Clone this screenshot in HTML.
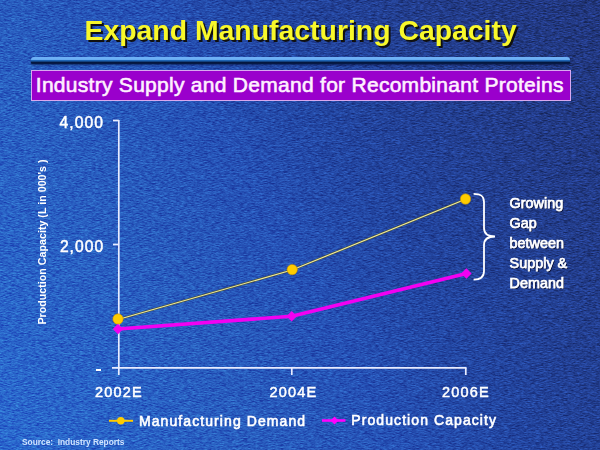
<!DOCTYPE html>
<html>
<head>
<meta charset="utf-8">
<style>
html,body{margin:0;padding:0;}
body{width:600px;height:450px;overflow:hidden;position:relative;font-family:"Liberation Sans",sans-serif;
background:linear-gradient(60deg,rgb(42,104,206) 0%,rgb(40,92,190) 30%,rgb(37,80,180) 47%,rgb(34,68,158) 62%,rgb(34,60,138) 80%,rgb(33,54,124) 100%);}
.abs{position:absolute;white-space:nowrap;}
#title{left:84.5px;top:12.5px;font-size:28.4px;font-weight:bold;color:#f8f82a;text-shadow:2px 2px 0 #101010;line-height:34px;}
#bar{left:31px;top:57px;width:539px;height:7px;background:linear-gradient(#6eb0f5 0,#6eb0f5 35%,#1e64b4 45%,#1e64b4 60%,#04163c 70%,#061a48 100%);border-radius:3px 3px 1px 1px;box-shadow:0 1px 2px rgba(2,10,40,0.55);}
#sub{left:31px;top:70px;width:538px;height:29px;background:#9a00cc;border:1px solid #d8a8f0;}
#subt{left:35.8px;top:72.6px;font-size:21px;color:#fff0ff;letter-spacing:0.28px;-webkit-text-stroke:0.6px #fff0ff;line-height:24px;}
.ax{font-size:14.5px;color:#ffffff;letter-spacing:1.2px;line-height:16px;-webkit-text-stroke:0.5px #fff;}
.lg{font-size:14px;color:#ffffff;letter-spacing:1.08px;line-height:16px;-webkit-text-stroke:0.6px #fff;}
.gap{left:509.6px;font-size:14.4px;color:#ffffff;line-height:20px;text-shadow:1px 1px 0.5px #050c30;-webkit-text-stroke:0.75px #fff;}
#ylab{left:42.4px;top:242.4px;font-size:10.7px;font-weight:bold;color:#fff;transform:translate(-50%,-50%) rotate(-90deg);line-height:12px;}
#src{left:22px;top:436.5px;font-size:8.35px;font-weight:bold;color:#d0e4ff;line-height:10px;}
svg{position:absolute;left:0;top:0;}
</style>
</head>
<body>
<svg id="bg" width="600" height="450" viewBox="0 0 600 450" style="position:absolute;left:0;top:0;mix-blend-mode:overlay;opacity:0.38">
  <defs>
    <filter id="nz" x="0" y="0" width="100%" height="100%" color-interpolation-filters="sRGB">
      <feTurbulence type="fractalNoise" baseFrequency="0.25 1.4" numOctaves="3" seed="7" result="t"/>
      <feColorMatrix in="t" type="matrix" values="1.6 0 0 0 -0.3  1.6 0 0 0 -0.3  1.6 0 0 0 -0.3  0 0 0 0 1"/>
    </filter>
  </defs>
  <rect width="600" height="450" fill="#808080" filter="url(#nz)"/>
</svg>
<div class="abs" id="title">Expand Manufacturing Capacity</div>
<div class="abs" id="bar"></div>
<div class="abs" id="sub"></div>
<div class="abs" id="subt">Industry Supply and Demand for Recombinant Proteins</div>

<svg width="600" height="450" viewBox="0 0 600 450">
  <!-- axes -->
  <g stroke="#e8ecff" stroke-width="1.7" fill="none">
    <line x1="118.8" y1="120" x2="118.8" y2="375"/>
    <line x1="112" y1="367.8" x2="466.5" y2="367.8"/>
    <line x1="113" y1="120.5" x2="119" y2="120.5"/>
    <line x1="113" y1="244.5" x2="119" y2="244.5"/>
    <line x1="291.8" y1="367.8" x2="291.8" y2="375"/>
    <line x1="465.8" y1="367.8" x2="465.8" y2="375"/>
  </g>
  <!-- demand line -->
  <polyline points="118,319.5 292,270 465.5,199.3" fill="none" stroke="#4a5236" stroke-width="2.3"/>
  <polyline points="118,319.5 292,270 465.5,199.3" fill="none" stroke="#f0eaa0" stroke-width="1.15"/>
  <!-- capacity line -->
  <polyline points="118,329 291.7,316.3 466.4,273.5" fill="none" stroke="#f200f2" stroke-width="3.6" stroke-linejoin="round"/>
  <g fill="#ffcc00" stroke="#c89000" stroke-width="0.6">
    <circle cx="118" cy="319" r="5.2"/>
    <circle cx="292.2" cy="269.6" r="5.2"/>
    <circle cx="465.5" cy="199" r="5.2"/>
  </g>
  <g fill="#f200f2">
    <path d="M118 323.8 L123.2 329 L118 334.2 L112.8 329Z"/>
    <path d="M291.7 311.1 L296.9 316.3 L291.7 321.5 L286.5 316.3Z"/>
    <path d="M466.4 268.3 L471.6 273.5 L466.4 278.7 L461.2 273.5Z"/>
  </g>
  <!-- brace -->
  <path d="M473.6 193.8 C481 193.8 484 196 484 202 L484 228 C484 233 487 236.5 495 236.5 C487 236.5 484 240 484 245 L484 271 C484 277 481 279.6 473.6 279.6" fill="none" stroke="#ffffff" stroke-width="1.8"/>
  <!-- legend -->
  <line x1="109" y1="420.8" x2="133" y2="420.8" stroke="#ffcc00" stroke-width="2"/>
  <circle cx="120.8" cy="420.8" r="3.8" fill="#ffcc00"/>
  <line x1="322" y1="420.5" x2="345.5" y2="420.5" stroke="#ff00ff" stroke-width="2.6"/>
  <path d="M334.5 416.5 L338.5 420.5 L334.5 424.5 L330.5 420.5Z" fill="#ff00ff"/>
</svg>

<div class="abs ax" style="left:59.6px;top:115px;font-size:15.6px;letter-spacing:1.05px;">4,000</div>
<div class="abs ax" style="left:59.9px;top:239px;font-size:15.6px;letter-spacing:1.05px;">2,000</div>
<div class="abs" style="left:96px;top:369.3px;width:5px;height:1.8px;background:#fff;"></div>
<div class="abs ax" style="left:95px;top:383.5px;">2002E</div>
<div class="abs ax" style="left:269.5px;top:383.5px;">2004E</div>
<div class="abs ax" style="left:442px;top:383.5px;">2006E</div>

<div class="abs gap" style="top:193px;">Growing</div>
<div class="abs gap" style="top:213px;">Gap</div>
<div class="abs gap" style="top:233px;">between</div>
<div class="abs gap" style="top:252.5px;">Supply &amp;</div>
<div class="abs gap" style="top:272.5px;">Demand</div>

<div class="abs" id="ylab">Production Capacity (L in 000's )</div>

<div class="abs lg" style="left:139px;top:412.6px;">Manufacturing Demand</div>
<div class="abs lg" style="left:351.3px;top:412.4px;">Production Capacity</div>

<div class="abs" id="src">Source:&nbsp; Industry Reports</div>
</body>
</html>
